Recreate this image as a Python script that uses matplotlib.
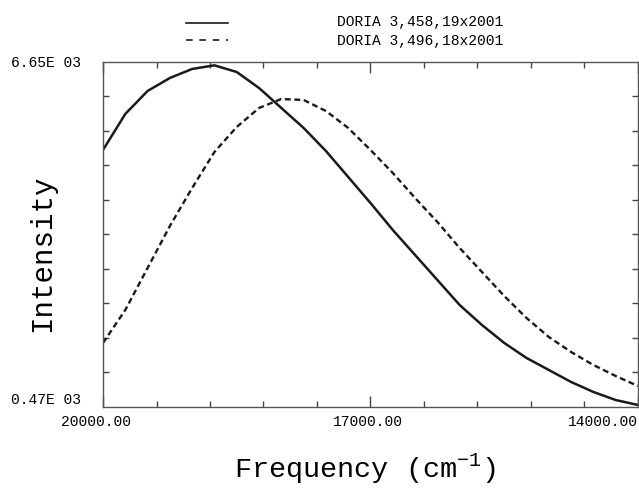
import matplotlib.pyplot as plt
from matplotlib.lines import Line2D
from matplotlib.ticker import FixedLocator
from matplotlib.transforms import ScaledTranslation

plt.rcParams['font.family'] = ['Liberation Mono', 'DejaVu Sans Mono']
plt.rcParams['mathtext.fontset'] = 'custom'
plt.rcParams['mathtext.rm'] = 'Liberation Mono'

# frequency grid (cm-1)
freq = [20000, 19750, 19500, 19250, 19000, 18750, 18500, 18250, 18000,
        17750, 17500, 17250, 17000, 16750, 16500, 16250, 16000, 15750,
        15500, 15250, 15000, 14750, 14500, 14250, 14000]

# DORIA 3,458,19x2001 (solid)
int_458 = [5074, 5719, 6131, 6363, 6525, 6590, 6470, 6184, 5826,
           5468, 5056, 4590, 4124, 3641, 3193, 2745, 2297, 1939,
           1617, 1348, 1133, 918, 739, 595, 506]

# DORIA 3,496,18x2001 (dashed)
int_496 = [1617, 2208, 2960, 3712, 4393, 5038, 5486, 5826, 5987,
           5969, 5772, 5468, 5074, 4662, 4214, 3784, 3318, 2888,
           2458, 2064, 1724, 1455, 1222, 1025, 846]

series_names = ['DORIA 3,458,19x2001', 'DORIA 3,496,18x2001']

x_ticks = [20000, 17000, 14000]
x_ticklabels = ['20000.00', '17000.00', '14000.00']
y_ticks = [470, 6650]
y_ticklabels = ['0.47E 03', '6.65E 03']

fig = plt.figure(figsize=(6.39, 4.95), dpi=100)
ax = fig.add_axes([0.1612, 0.1778, 0.8372, 0.6970])

ax.plot(freq, int_458, color='#1a1a1a', lw=1.8, ls='-')
ax.plot(freq, int_496, color='#1a1a1a', lw=1.7, ls=(0, (2.5, 1.5)))

ax.set_xlim(20000, 14000)
ax.set_ylim(470, 6650)

ax.xaxis.set_major_locator(FixedLocator(x_ticks))
ax.xaxis.set_minor_locator(FixedLocator([20000 - 600 * i for i in range(11)]))
ax.yaxis.set_major_locator(FixedLocator(y_ticks))
ax.yaxis.set_minor_locator(FixedLocator([470 + 618 * i for i in range(11)]))
ax.set_xticklabels(x_ticklabels, fontsize=10.5)
ax.set_yticklabels(y_ticklabels, fontsize=10.5)

ax.tick_params(which='both', direction='in', top=True, right=True, color='#444444')
ax.tick_params(axis='x', which='major', length=8, width=1, pad=6)
ax.tick_params(axis='y', which='major', length=0, pad=16)
ax.tick_params(which='minor', length=4, width=1)

xl = ax.get_xticklabels()
xl[0].set_transform(xl[0].get_transform() + ScaledTranslation(-0.07, 0, fig.dpi_scale_trans))
xl[1].set_transform(xl[1].get_transform() + ScaledTranslation(-0.03, 0, fig.dpi_scale_trans))
xl[-1].set_ha('right')
yl = ax.get_yticklabels()
yl[0].set_va('bottom')

for s in ax.spines.values():
    s.set_color('#555555')
    s.set_linewidth(1.0)

ax.set_xlabel('Frequency (cm$^{-1}$)', fontsize=20.5)
ax.xaxis.set_label_coords(0.49, -0.13)
ax.set_ylabel('Intensity', fontsize=21)
ax.yaxis.set_label_coords(-0.088, 0.446)

# legend drawn above the axes
fig.add_artist(Line2D([186 / 639, 228 / 639], [1 - 23 / 495, 1 - 23 / 495],
                      color='#1a1a1a', lw=1.2, ls='-'))
fig.add_artist(Line2D([186 / 639, 228 / 639], [1 - 40 / 495, 1 - 40 / 495],
                      color='#1a1a1a', lw=1.2, ls=(0, (4, 4))))
fig.text(337 / 639, 1 - 22 / 495, series_names[0], fontsize=10.5, va='center')
fig.text(337 / 639, 1 - 41 / 495, series_names[1], fontsize=10.5, va='center')

fig.savefig('out.png', dpi=100)
